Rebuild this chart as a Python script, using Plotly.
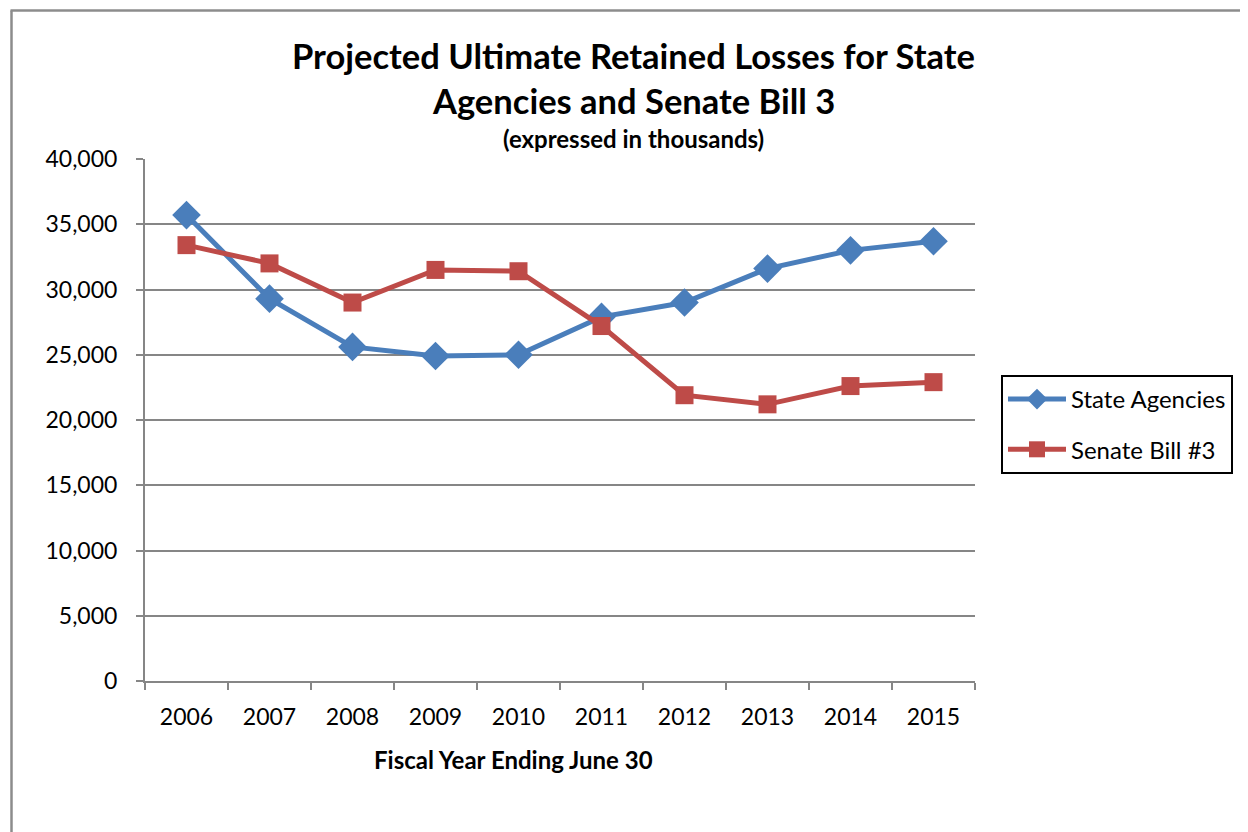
import plotly.graph_objects as go

years = ["2006", "2007", "2008", "2009", "2010", "2011", "2012", "2013", "2014", "2015"]
state_agencies = [35700, 29300, 25600, 24900, 25000, 27900, 29000, 31600, 33000, 33700]
senate_bill_3 = [33400, 32000, 29000, 31500, 31400, 27200, 21900, 21200, 22600, 22900]

FONT = "Lato"
OFF = 8  # default page body margin
W, H = 1248 - OFF, 832 - OFF
L, R, T, B = 145 - OFF, 975 - OFF, 159 - OFF, 681 - OFF


def px(x):
    return (x - OFF - L) / (R - L)


def py(y):
    return (B - (y - OFF)) / (B - T)


fig = go.Figure()
fig.add_trace(go.Scatter(
    x=years, y=state_agencies, name="State Agencies", mode="lines+markers",
    line=dict(color="#4A7EBB", width=5),
    marker=dict(symbol="diamond", size=22, color="#4A7EBB"),
    legendgroup="a",
))
fig.add_trace(go.Scatter(
    x=years, y=senate_bill_3, name="Senate Bill #3", mode="lines+markers",
    line=dict(color="#BE4B48", width=5),
    marker=dict(symbol="square", size=18, color="#BE4B48"),
    legendgroup="b",
))

axis_col = "#868686"
fig.update_layout(
    width=W, height=H,
    margin=dict(l=L, r=W - R, t=T, b=H - B),
    paper_bgcolor="white", plot_bgcolor="white",
    font=dict(family=FONT, color="black", size=23),
    showlegend=True,
    legend=dict(
        x=px(1001), y=py(375), xanchor="left", yanchor="top",
        bordercolor="black", borderwidth=2, bgcolor="white",
        font=dict(family=FONT, size=24, color="black"),
        tracegroupgap=16, traceorder="grouped", itemwidth=58,
        entrywidth=165, entrywidthmode="pixels",
    ),
    xaxis=dict(
        type="category", range=[-0.5, 9.5],
        showline=True, linecolor=axis_col, linewidth=2,
        ticks="outside", tickson="boundaries", ticklen=7, tickwidth=2, tickcolor=axis_col,
        showgrid=False, tickfont=dict(size=23, family=FONT), ticklabelstandoff=14,
    ),
    yaxis=dict(
        range=[0, 40000], dtick=5000, tickformat=",",
        showline=True, linecolor=axis_col, linewidth=2,
        ticks="outside", ticklen=7, tickwidth=2, tickcolor=axis_col,
        showgrid=True, gridcolor=axis_col, gridwidth=1.5, zeroline=False,
        tickfont=dict(size=23, family=FONT), ticklabelstandoff=14,
    ),
)

ann = [
    dict(text="<b>Projected Ultimate Retained Losses for State</b>", x=px(633), y=py(56), size=34.5),
    dict(text="<b>Agencies and Senate Bill 3</b>", x=px(633), y=py(101), size=34.5),
    dict(text="<b>(expressed in thousands)</b>", x=px(633), y=py(139), size=24),
    dict(text="<b>Fiscal Year Ending June 30</b>", x=px(513), y=py(759), size=24),
]
for a in ann:
    fig.add_annotation(text=a["text"], x=a["x"], y=a["y"], xref="paper", yref="paper",
                       showarrow=False, xanchor="center", yanchor="middle",
                       font=dict(family=FONT, size=a["size"], color="black"))

# outer chart border (left and top edges visible)
fig.add_shape(type="line", xref="paper", yref="paper",
              x0=px(11.5), y0=py(845), x1=px(11.5), y1=py(10.5),
              line=dict(color="#8C8C8C", width=2.5))
fig.add_shape(type="line", xref="paper", yref="paper",
              x0=px(10.5), y0=py(10.5), x1=px(1260), y1=py(10.5),
              line=dict(color="#8C8C8C", width=2.5))

fig.write_html("out.html")
